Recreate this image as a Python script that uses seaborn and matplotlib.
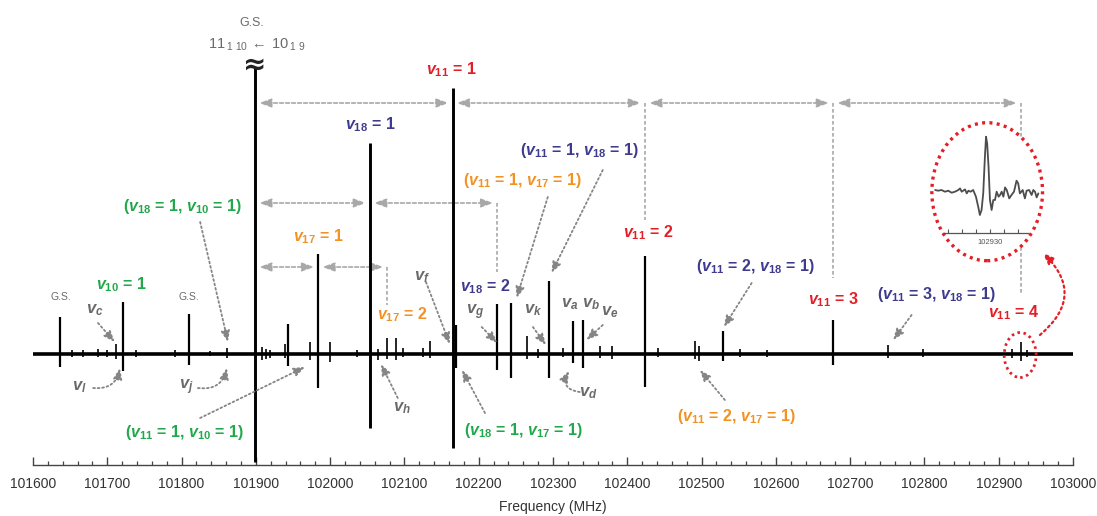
import matplotlib
matplotlib.use("Agg")
import matplotlib.pyplot as plt
import seaborn as sns
from matplotlib.patches import Ellipse
from matplotlib.ticker import MultipleLocator, FixedLocator, FixedFormatter

# ---------------------------------------------------------------------------
# Spectrum: line centres (MHz), positive and negative lobe amplitudes (a.u.)
# ---------------------------------------------------------------------------
line_freq = [101637, 101652, 101667, 101688, 101700, 101712, 101721.5, 101739,
             101791, 101810.5, 101838, 101861, 101899, 101908, 101914, 101919,
             101939, 101943, 101973, 101984, 102000, 102036, 102053.6, 102064,
             102077, 102088, 102098, 102125, 102134, 102165, 102170, 102225,
             102243, 102264.5, 102280, 102295, 102313, 102327, 102341, 102363,
             102380, 102424, 102441, 102491, 102496, 102529, 102552, 102588,
             102677, 102751, 102798, 102918, 102929.9, 102938]
line_up = [37, 4, 4, 5, 4, 10, 52, 4, 4, 40, 3, 6, 286, 7, 5, 4, 10, 30, 12, 100,
           12, 4, 211, 5, 16, 16, 6, 6, 13, 266, 29, 50, 51, 18, 5, 73, 6, 33, 34, 8,
           8, 98, 6, 13, 8, 23, 5, 4, 34, 9, 5, 5, 12, 4]
line_down = [13, 3, 3, 3, 3, 5, 17, 3, 3, 11, 2, 4, 108, 6, 5, 4, 4, 12, 6, 34,
             8, 3, 74, 6, 5, 6, 3, 3, 4, 94, 14, 16, 24, 5, 4, 24, 3, 9, 14, 4,
             5, 33, 3, 5, 7, 7, 3, 3, 11, 4, 3, 4, 7, 3]

freq_span = [101600, 103000]

# assigned progressions (MHz)
gs_freq = 101899
v11_freq = [102165, 102424, 102677, 102929.9]
v18_freq = [102053.6, 102225]
v17_freq = [101984, 102077]

# zoomed trace of the v11 = 4 line
inset_freq = [102928.04, 102928.15, 102928.27, 102928.39, 102928.51, 102928.63,
              102928.75, 102928.87, 102928.93, 102928.99, 102929.11, 102929.17,
              102929.23, 102929.31, 102929.40, 102929.50, 102929.58, 102929.64,
              102929.70, 102929.76, 102929.82, 102929.86, 102929.90, 102929.95,
              102930.00, 102930.06, 102930.12, 102930.18, 102930.24, 102930.31,
              102930.36, 102930.42, 102930.48, 102930.54, 102930.60, 102930.69,
              102930.77, 102930.86, 102930.95, 102931.01, 102931.07, 102931.17,
              102931.25, 102931.31, 102931.40, 102931.49, 102931.55, 102931.61,
              102931.67, 102931.73]
inset_int = [0.7, 0, 0.7, -1.0, 0, -2.0, -1.0, 0.7, 2.3, -1.0, 1.3, -2.7, 0, -1.0,
             0.7, -6.0, -16.0, -24.3, -19.3, -2.7, 34.0, 54.0, 47.3, 24.0, -9.3,
             -19.3, -9.3, -9.3, -1.0, -6.0, -4.3, -1.0, -6.0, 3.3, 0.7, -7.7, -4.3,
             -1.0, 10.0, 7.3, -2.7, 0.7, -7.7, 0, 0.7, -4.3, 0.7, -1.0, -6.7, -2.7]
inset_ticks = [102928.5, 102929.0, 102929.5, 102930.0, 102930.5, 102931.0]

# ---------------------------------------------------------------------------
sns.set_theme(style="ticks")
plt.rcParams["font.family"] = ["Liberation Sans", "DejaVu Sans"]
plt.rcParams["mathtext.fontset"] = "custom"
plt.rcParams["mathtext.rm"] = "Liberation Sans:bold"
plt.rcParams["mathtext.bf"] = "Liberation Sans:bold"
plt.rcParams["mathtext.it"] = "Liberation Sans:italic:bold"
plt.rcParams["mathtext.sf"] = "Liberation Sans"

RED = "#e31e26"
NAVY = "#3e3b8f"
GREEN = "#22a84c"
ORANGE = "#f29222"
GRAY_T = "#6a6a6a"
ARROW = "#858585"
DASH = "#a8a8a8"

W, H = 1097, 516
fig = plt.figure(figsize=(W / 100, H / 100), dpi=100)
ax = fig.add_axes([33 / W, 51 / H, 1040 / W, 465 / H])
ax.set_xlim(*freq_span)
ax.set_ylim(-111, 354)

# baseline and stick spectrum
sns.lineplot(x=freq_span, y=[0, 0], ax=ax, color="black", lw=2.6, zorder=3)
widths = [2.1 if u > 150 else (1.6 if u > 20 else 1.2) for u in line_up]
ax.vlines(line_freq, [-d for d in line_down], line_up, colors="black",
          linewidths=widths, zorder=3)

# axis styling
for side in ("top", "left", "right"):
    ax.spines[side].set_visible(False)
ax.spines["bottom"].set_color("#444444")
ax.spines["bottom"].set_linewidth(1.0)
ax.set_yticks([])
ax.xaxis.set_major_locator(MultipleLocator(100))
ax.xaxis.set_minor_locator(MultipleLocator(20))
ax.tick_params(axis="x", which="major", direction="in", length=6, width=1,
               color="#444444", labelsize=10, labelcolor="#333333", pad=9)
ax.tick_params(axis="x", which="minor", direction="in", length=3, width=0.9,
               color="#444444")
ax.set_xlabel("Frequency (MHz)", fontsize=10, color="#333333", labelpad=6)


# ---------------------------------------------------------------------------
def dbl_arrow(x0, x1, y):
    ax.annotate("", xy=(x1, y), xytext=(x0, y),
                arrowprops=dict(arrowstyle="<|-|>,head_length=0.6,head_width=0.22",
                                color=DASH, lw=1.2, linestyle=(0, (2.2, 1.4)),
                                shrinkA=3, shrinkB=3), zorder=2)


def vdash(x, y0, y1):
    ax.plot([x, x], [y0, y1], color=DASH, lw=1.2, ls=(0, (2.2, 1.4)), zorder=2)


def pointer(start, end, rad=0.0, color=ARROW, lw=1.3):
    ax.annotate("", xy=end, xytext=start,
                arrowprops=dict(arrowstyle="-|>,head_length=0.55,head_width=0.22",
                                color=color, lw=lw, linestyle=(0, (1, 1.5)),
                                shrinkA=0, shrinkB=0,
                                connectionstyle=f"arc3,rad={rad}"), zorder=7)


def label(x, y, s, color, size=11.5, weight="bold"):
    ax.text(x, y, s, color=color, fontsize=size, fontweight=weight,
            ha="center", va="center", zorder=8)


# v11 progression
row = 251
chain = [gs_freq] + v11_freq
for a, b in zip(chain[:-1], chain[1:]):
    dbl_arrow(a, b, row)
vdash(v11_freq[1], row, 134)
vdash(v11_freq[2], row, 76)
vdash(v11_freq[3], row, 59)

# v18 progression
row = 151
chain = [gs_freq] + v18_freq
for a, b in zip(chain[:-1], chain[1:]):
    dbl_arrow(a, b, row)
vdash(v18_freq[1], row, 82)

# v17 progression
row = 87
chain = [gs_freq] + v17_freq
for a, b in zip(chain[:-1], chain[1:]):
    dbl_arrow(a, b, row)
vdash(v17_freq[1], row, 49)

# ground-state transition header and break mark
label(101894, 331, "G.S.", GRAY_T, size=9, weight="normal")
label(101901, 309,
      r"$\mathsf{11}\,_{\mathsf{1\ 10}}\,\leftarrow\,\mathsf{10}\,_{\mathsf{1\ 9}}$",
      GRAY_T, size=10.5, weight="normal")
ax.text(gs_freq, 289, "≈", fontsize=20, color="#222222", ha="center", va="center",
        family="DejaVu Sans", fontweight="bold", zorder=8)

# state labels
label(102163.5, 284, r"$v_{11}$ = 1", RED)
label(102428, 121, r"$v_{11}$ = 2", RED)
label(102677, 54, r"$v_{11}$ = 3", RED)
label(102920, 41, r"$v_{11}$ = 4", RED)
label(102053.6, 229, r"$v_{18}$ = 1", NAVY)
label(102208.5, 67, r"$v_{18}$ = 2", NAVY)
label(102336, 204, r"($v_{11}$ = 1, $v_{18}$ = 1)", NAVY)
label(102572, 87, r"($v_{11}$ = 2, $v_{18}$ = 1)", NAVY)
label(102816, 59, r"($v_{11}$ = 3, $v_{18}$ = 1)", NAVY)
label(101983.6, 117, r"$v_{17}$ = 1", ORANGE)
label(102097, 39, r"$v_{17}$ = 2", ORANGE)
label(102258, 174, r"($v_{11}$ = 1, $v_{17}$ = 1)", ORANGE)
label(102547, -63, r"($v_{11}$ = 2, $v_{17}$ = 1)", ORANGE)
label(101719, 69, r"$v_{10}$ = 1", GREEN)
label(101800.5, 148, r"($v_{18}$ = 1, $v_{10}$ = 1)", GREEN)
label(101803, -79, r"($v_{11}$ = 1, $v_{10}$ = 1)", GREEN)
label(102259.5, -76, r"($v_{18}$ = 1, $v_{17}$ = 1)", GREEN)
label(101637, 57, "G.S.", GRAY_T, size=7.5, weight="normal")
label(101810, 57, "G.S.", GRAY_T, size=7.5, weight="normal")

# unassigned lines
gsz = 12
label(101683.5, 44, r"$v_c$", GRAY_T, size=gsz)
label(101663, -33, r"$v_l$", GRAY_T, size=gsz)
label(101807, -33, r"$v_j$", GRAY_T, size=gsz)
label(102123.5, 77, r"$v_f$", GRAY_T, size=gsz)
label(102097, -54, r"$v_h$", GRAY_T, size=gsz)
label(102195, 42, r"$v_g$", GRAY_T, size=gsz)
label(102273, 44, r"$v_k$", GRAY_T, size=gsz)
label(102322, 50, r"$v_a$", GRAY_T, size=gsz)
label(102351, 50, r"$v_b$", GRAY_T, size=gsz)
label(102376, 42, r"$v_e$", GRAY_T, size=gsz)
label(102347, -39, r"$v_d$", GRAY_T, size=gsz)

# pointers
pointer((101825, 132), (101862.5, 12))
pointer((101825, -64), (101966, -13))
pointer((101687.5, 31), (101710, 12))
pointer((101681, -34), (101717, -14), rad=0.45)
pointer((101822, -34), (101861, -14), rad=0.45)
pointer((102129, 72), (102161, 10))
pointer((102091, -44), (102068.4, -10))
pointer((102208.4, -59), (102177.5, -16))
pointer((102204, 27), (102225, 11))
pointer((102293, 157), (102251, 56))
pointer((102367, 184), (102298, 81))
pointer((102273, 27), (102290.5, 9))
pointer((102367, 29), (102345, 14))
pointer((102336, -38), (102321.5, -17), rad=-0.7)
pointer((102567.4, 71), (102530, 27))
pointer((102531.4, -46), (102497.8, -16))
pointer((102782.7, 39), (102758, 14))
pointer((102955.5, 19), (102959.5, 101), rad=0.55, color=RED, lw=1.6)

# magnified region markers
ax.add_patch(Ellipse((v11_freq[3] - 1, -1), 43, 45, fill=False, edgecolor=RED,
                     lw=2.0, ls=(0, (0.9, 1.3)), zorder=6))
ax.add_patch(Ellipse((102884.5, 162.3), 149, 138, facecolor="white", edgecolor=RED,
                     lw=2.4, ls=(0, (0.9, 1.3)), zorder=6))

# inset with the zoomed line
axi = fig.add_axes([934 / W, (H - 233.3) / H, 106.3 / W, 108.3 / H])
axi.patch.set_alpha(0)
sns.lineplot(x=inset_freq, y=inset_int, ax=axi, color="#4d4d4d", lw=1.3)
axi.set_xlim(102928.0, 102931.8)
axi.set_ylim(-42.6, 65.7)
for side in ("top", "left", "right"):
    axi.spines[side].set_visible(False)
axi.spines["bottom"].set_bounds(102928.31, 102931.37)
axi.spines["bottom"].set_color("#555555")
axi.spines["bottom"].set_linewidth(0.9)
axi.set_yticks([])
axi.xaxis.set_major_locator(FixedLocator(inset_ticks))
axi.xaxis.set_major_formatter(FixedFormatter(["", "", "", "102930", "", ""]))
axi.tick_params(axis="x", direction="in", length=3, width=0.8, color="#555555",
                labelsize=5.5, labelcolor="#555555", pad=4)

fig.savefig("out.png", dpi=100)
